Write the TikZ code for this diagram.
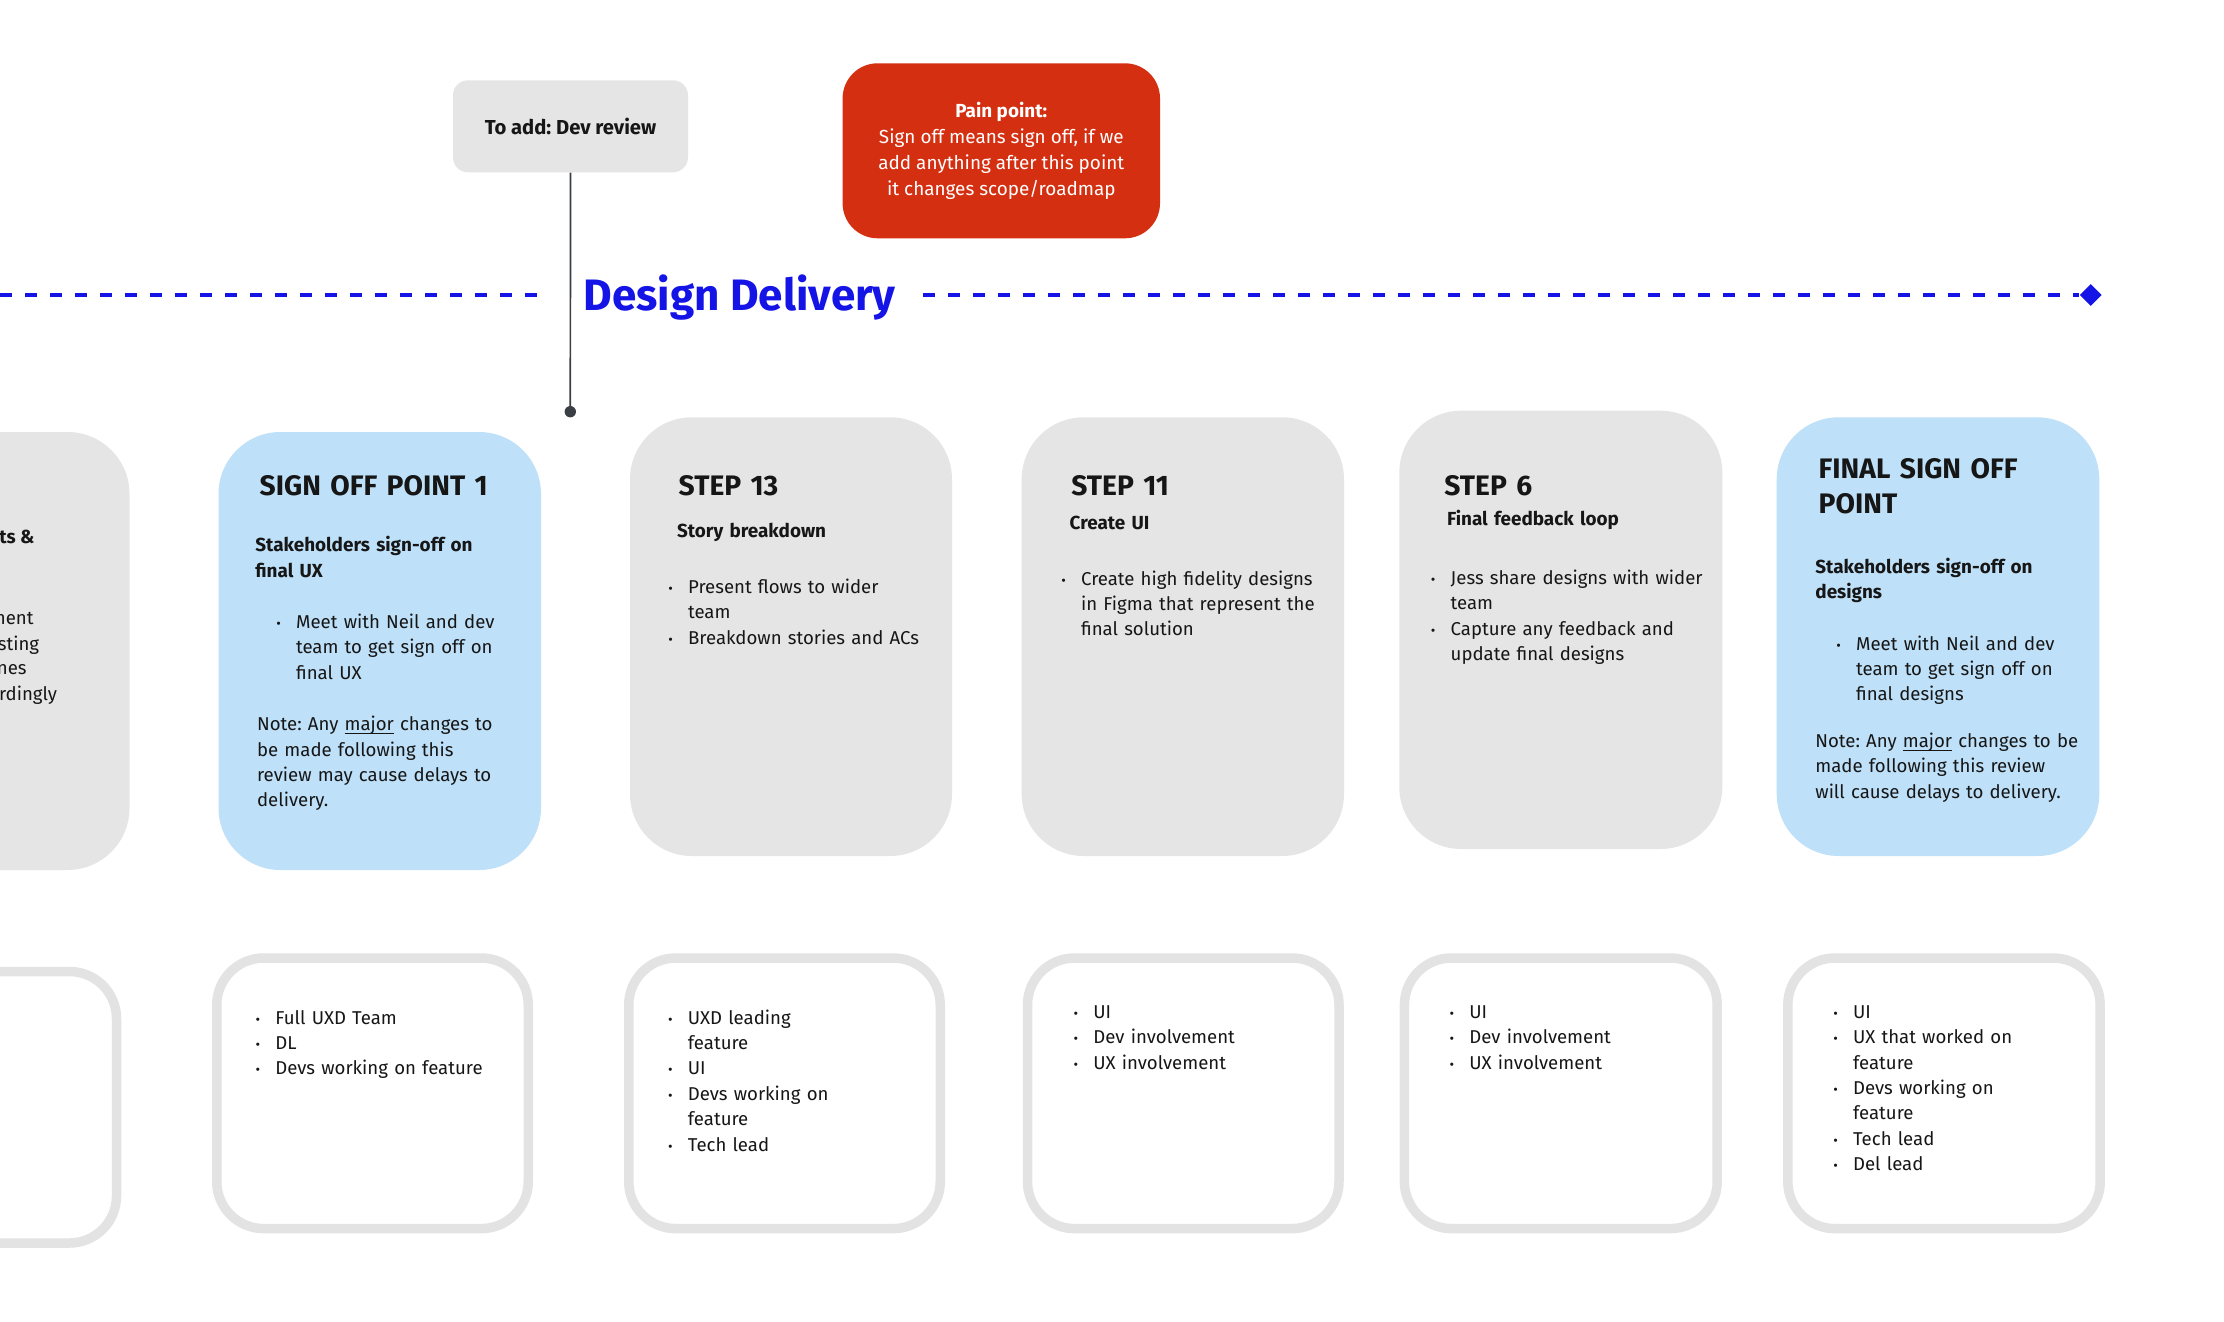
\documentclass[tikz,border=0pt]{standalone}
\usepackage{fontspec}
\setmainfont{Fira Sans}
\usetikzlibrary{shapes.geometric}
\frenchspacing
\definecolor{cardgray}{HTML}{E5E5E5}
\definecolor{cardblue}{HTML}{BEE0F8}
\definecolor{painred}{HTML}{D52F11}
\definecolor{ddblue}{HTML}{1414E6}
\definecolor{ink}{HTML}{161616}
\definecolor{outl}{HTML}{E3E3E3}
\definecolor{pinc}{HTML}{3A3F45}
\newcommand\bodyfont{\fontsize{9.3pt}{12.7pt}\selectfont}
\newcommand\boldfont{\fontsize{9.45pt}{12.7pt}\selectfont\bfseries}
\newcommand\headfont{\fontsize{14.1pt}{17.2pt}\selectfont\bfseries}
\newcommand\bu{\leavevmode\llap{\makebox[0pt][c]{\fontsize{7pt}{7pt}\selectfont\textbullet}\hspace{8.75pt}}}
\newsavebox\ulbox
\newcommand\ulmaj[1]{\sbox\ulbox{#1}\rlap{\rule[-1.6pt]{\wd\ulbox}{0.55pt}}\usebox\ulbox}
\newcommand\card[6]{\node[#2, minimum width={((#5)-(#3))*0.5pt}, minimum height={((#6)-(#4))*0.5pt}] (#1) at ({((#3)+(#5))/2},{((#4)+(#6))/2}) {};}
\tikzset{
  topcard/.style={rounded corners=31pt, inner sep=0pt, draw=none},
  graycard/.style={topcard, fill=cardgray},
  bluecard/.style={topcard, fill=cardblue},
  botcard/.style={draw=outl, line width=4.75pt, fill=white, rounded corners=23.5pt, inner sep=0pt},
  txt/.style={anchor=base west, inner sep=0pt, text width=170pt, align=left, font=\bodyfont\frenchspacing, text=ink},
  subtxt/.style={txt, font=\boldfont},
  headtxt/.style={txt, font=\headfont},
  cut/.style={anchor=base east, inner sep=0pt, font=\bodyfont, text=ink},
  dashline/.style={draw=ddblue, line width=1.65pt, dash pattern=on 5.85pt off 6.65pt},
}
\begin{document}
\begin{tikzpicture}[x=0.5pt,y=-0.5pt]
\useasboundingbox (0,0) rectangle (2224,1322);
\clip (0,0) rectangle (2224,1322);
\fill[white] (0,0) rectangle (2224,1322);

% top notes
\node[fill=cardgray, rounded corners=7.5pt, minimum width=117.5pt, minimum height=46pt, inner sep=0pt,
      font=\fontsize{10.1pt}{12.7pt}\selectfont\bfseries, text=ink] (todo) at (570.5,126.3) {To add: Dev review};
\node[fill=painred, rounded corners=17.5pt, minimum width=158.7pt, minimum height=87.5pt, inner sep=0pt,
      font=\fontsize{9.45pt}{13pt}\selectfont, text=white, align=center] (pain) at (1001.3,150.8)
      {\textbf{Pain point:}\\Sign off means sign off, if we\\add anything after this point\\it changes scope/roadmap};

% title and timeline
\node[anchor=base west, inner sep=0pt, font=\fontsize{22pt}{26pt}\selectfont\bfseries, text=ddblue] (title) at (583.3,310.7) {Design Delivery};
\coordinate (lstart) at (0,295);
\node[diamond, fill=ddblue, minimum width=11pt, minimum height=11pt, inner sep=0pt] (endmark) at (2090.7,295) {};
\draw[dashline] (lstart) -- ([xshift=-17pt]title.west |- lstart);
\draw[dashline] ([xshift=13.5pt]title.east |- lstart) -- (endmark.west);

% top cards
\card{t0}{graycard}{-193}{432}{129.5}{870}
\card{t1}{bluecard}{218.5}{432}{541}{870}
\card{t2}{graycard}{630}{417.3}{952}{856}
\card{t3}{graycard}{1021.7}{417.3}{1344}{856}
\card{t4}{graycard}{1399.3}{410.7}{1722.3}{849}
\card{t5}{bluecard}{1776.7}{417.3}{2099.3}{856}

% pin connector
\node[circle, fill=pinc, minimum size=5.7pt, inner sep=0pt] (pin) at (570.3,411.7) {};
\draw[pinc, line width=0.85pt] (todo.south) -- (pin.center);

% card 0 (partial, cut by the left edge)
\node[cut, font=\boldfont] (t0a) at (35,543.3) {ts \&};
\node[cut] (t0b) at (34,624) {nent};
\node[cut] (t0c) at (39.5,650) {sting};
\node[cut] (t0d) at (27,674.3) {nes};
\node[cut] (t0e) at (57.4,700) {rdingly};

% card 1
\node[headtxt] (t1h) at (259.3,495.7) {SIGN OFF POINT 1};
\node[subtxt] (t1s) at (255,551.7) {Stakeholders sign-off on\\final UX};
\node[txt] (t1l) at (295.7,628.3) {\bu Meet with Neil and dev\\team to get sign off on\\final UX};
\node[txt] (t1n) at (256.7,730.7) {Note: Any \ulmaj{major} changes to\\be made following this\\review may cause delays to\\delivery.};

% card 2
\node[headtxt] (t2h) at (678.3,495) {STEP 13};
\node[subtxt] (t2s) at (676.7,537.3) {Story breakdown};
\node[txt] (t2l) at (687.7,593.3) {\bu Present flows to wider\\team\\\bu Breakdown stories and ACs};

% card 3
\node[headtxt] (t3h) at (1071,495) {STEP 11};
\node[subtxt] (t3s) at (1069.3,529.3) {Create UI};
\node[txt] (t3l) at (1080.7,585) {\bu Create high fidelity designs\\in Figma that represent the\\final solution};

% card 4
\node[headtxt] (t4h) at (1444,495) {STEP 6};
\node[subtxt] (t4s) at (1446.7,525) {Final feedback loop};
\node[txt] (t4l) at (1450.3,584.3) {\bu Jess share designs with wider\\team\\\bu Capture any feedback and\\update final designs};

% card 5
\node[headtxt] (t5h) at (1818.3,478.9) {FINAL SIGN OFF\\POINT};
\node[subtxt] (t5s) at (1815,573.4) {Stakeholders sign-off on\\designs};
\node[txt] (t5l) at (1855.7,650) {\bu Meet with Neil and dev\\team to get sign off on\\final designs};
\node[txt] (t5n) at (1815,747.5) {Note: Any \ulmaj{major} changes to be\\made following this review\\will cause delays to delivery.};

% bottom cards
\card{b0}{botcard}{-196}{971.5}{116.5}{1243}
\card{b1}{botcard}{216.75}{958}{528.25}{1228.6}
\card{b2}{botcard}{628.75}{958}{940.25}{1228.6}
\card{b3}{botcard}{1027.5}{958}{1339}{1228.6}
\card{b4}{botcard}{1404.4}{958}{1717.2}{1228.6}
\card{b5}{botcard}{1787.8}{958}{2100.2}{1228.6}

\node[txt] (b1l) at (275,1024) {\bu Full UXD Team\\\bu DL\\\bu Devs working on feature};
\node[txt] (b2l) at (687.5,1024) {\bu UXD leading\\feature\\\bu UI\\\bu Devs working on\\feature\\\bu Tech lead};
\node[txt] (b3l) at (1093,1018.3) {\bu UI\\\bu Dev involvement\\\bu UX involvement};
\node[txt] (b4l) at (1469,1018.3) {\bu UI\\\bu Dev involvement\\\bu UX involvement};
\node[txt] (b5l) at (1852.7,1018.3) {\bu UI\\\bu UX that worked on\\feature\\\bu Devs working on\\feature\\\bu Tech lead\\\bu Del lead};
\end{tikzpicture}
\end{document}
